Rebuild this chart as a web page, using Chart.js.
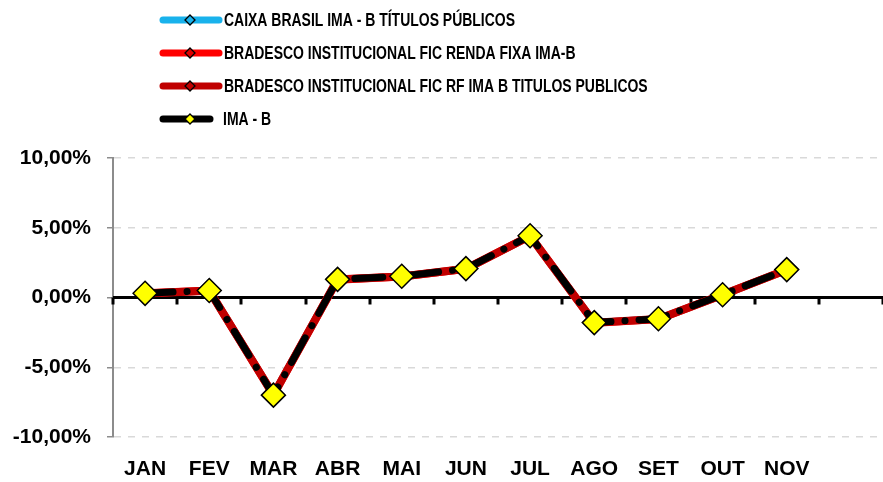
<!DOCTYPE html>
<html>
<head>
<meta charset="utf-8">
<script src="https://cdn.jsdelivr.net/npm/chart.js@4"></script>
<style>
  html, body { margin: 0; padding: 0; background: #fff; }
  #wrap { width: 883px; height: 482px; }
</style>
</head>
<body>
<div id="wrap"><canvas id="chart" width="883" height="482"></canvas></div>
<script>
const months = ['JAN', 'FEV', 'MAR', 'ABR', 'MAI', 'JUN', 'JUL', 'AGO', 'SET', 'OUT', 'NOV', ''];

const caixaImaB = [0.28, 0.48, -6.95, 1.30, 1.52, 2.05, 4.40, -1.80, -1.52, 0.18, 2.00];
const bradescoRendaFixa = [0.30, 0.50, -7.00, 1.28, 1.50, 2.05, 4.42, -1.82, -1.55, 0.20, 1.98];
const bradescoTitulos = [0.29, 0.49, -6.98, 1.29, 1.51, 2.06, 4.41, -1.81, -1.54, 0.19, 1.99];
const imaB = [0.30, 0.50, -7.00, 1.30, 1.52, 2.07, 4.43, -1.80, -1.52, 0.20, 2.00];

const seriesNames = [
  'CAIXA BRASIL IMA - B TÍTULOS PÚBLICOS',
  'BRADESCO INSTITUCIONAL FIC RENDA FIXA IMA-B',
  'BRADESCO INSTITUCIONAL FIC RF IMA B TITULOS PUBLICOS',
  'IMA - B'
];

const FONT = '"Liberation Sans", Arial, sans-serif';

function pct(v) {
  return v.toFixed(2).replace('.', ',') + '%';
}

// legend at top, one row per series
const topLegend = {
  id: 'topLegend',
  afterDraw(chart) {
    const ctx = chart.ctx;
    const rows = [20, 53, 86, 119];
    chart.data.datasets.forEach((ds, i) => {
      const y = rows[i];
      const end = i === 3 ? 210 : 219;
      ctx.save();
      ctx.lineCap = 'round';
      ctx.strokeStyle = ds.borderColor;
      ctx.lineWidth = 7;
      ctx.beginPath();
      ctx.moveTo(163, y);
      ctx.lineTo(end, y);
      ctx.stroke();
      // small marker
      ctx.beginPath();
      ctx.moveTo(190, y - 5);
      ctx.lineTo(195, y);
      ctx.lineTo(190, y + 5);
      ctx.lineTo(185, y);
      ctx.closePath();
      ctx.fillStyle = ds.legendMarker;
      ctx.fill();
      ctx.lineWidth = 1.3;
      ctx.strokeStyle = '#000';
      ctx.stroke();
      ctx.fillStyle = '#000';
      ctx.font = 'bold 18px ' + FONT;
      ctx.textBaseline = 'middle';
      ctx.translate(i === 3 ? 223 : 224, y + 1);
      ctx.scale(0.776, 1);
      ctx.fillText(ds.label, 0, 0);
      ctx.restore();
    });
  }
};

// zero axis line with small ticks at category boundaries
const zeroAxis = {
  id: 'zeroAxis',
  beforeDatasetsDraw(chart) {
    const ctx = chart.ctx;
    const x = chart.scales.x, y = chart.scales.y;
    const y0 = y.getPixelForValue(0);
    ctx.save();
    ctx.strokeStyle = '#000';
    ctx.lineWidth = 3;
    ctx.beginPath();
    ctx.moveTo(chart.chartArea.left, y0);
    ctx.lineTo(chart.chartArea.right, y0);
    ctx.stroke();
    for (let i = 0; i <= months.length; i++) {
      const px = Math.round(x.getPixelForValue(i - 0.5));
      ctx.beginPath();
      ctx.moveTo(px, y0);
      ctx.lineTo(px, y0 + 7);
      ctx.stroke();
    }
    ctx.restore();
  }
};

const dashPattern = [28, 14, 0.1, 14];

new Chart(document.getElementById('chart'), {
  type: 'line',
  data: {
    labels: months,
    datasets: [
      {
        label: seriesNames[0], data: caixaImaB, order: 4,
        borderColor: '#19b2ec', borderWidth: 7, legendMarker: '#19b2ec',
        pointStyle: 'rectRot', pointRadius: 4, pointBackgroundColor: '#19b2ec', pointBorderColor: '#000'
      },
      {
        label: seriesNames[1], data: bradescoRendaFixa, order: 3,
        borderColor: '#ff0000', borderWidth: 8, legendMarker: '#e00000',
        pointStyle: 'rectRot', pointRadius: 4, pointBackgroundColor: '#e00000', pointBorderColor: '#000'
      },
      {
        label: seriesNames[2], data: bradescoTitulos, order: 2,
        borderColor: '#c00000', borderWidth: 8, legendMarker: '#c00000',
        pointStyle: 'rectRot', pointRadius: 4, pointBackgroundColor: '#c00000', pointBorderColor: '#000'
      },
      {
        label: seriesNames[3], data: imaB, order: 1,
        borderColor: '#000000', borderWidth: 7, borderDash: dashPattern, borderCapStyle: 'round',
        legendMarker: '#ffff00',
        pointStyle: 'rectRot', pointRadius: 12, pointBackgroundColor: '#ffff00',
        pointBorderColor: '#000', pointBorderWidth: 1.5
      }
    ]
  },
  options: {
    responsive: false,
    animation: false,
    layout: { autoPadding: false, padding: { top: 158, right: 0, bottom: 0, left: 0 } },
    plugins: {
      legend: { display: false },
      tooltip: { enabled: false }
    },
    elements: { line: { tension: 0 } },
    scales: {
      x: {
        offset: true,
        afterFit(s) { s.height = 45; s.paddingLeft = 0; s.paddingRight = 0; },
        grid: { display: false, drawTicks: false },
        border: { display: false },
        ticks: {
          padding: 20,
          color: '#000',
          maxRotation: 0,
          autoSkip: false,
          font: { family: FONT, size: 21, weight: 'bold' }
        }
      },
      y: {
        min: -10,
        max: 10,
        afterFit(scale) { scale.width = 113; },
        border: { display: true, color: '#8c8c8c', width: 2, dash: [7, 7] },
        grid: {
          color: '#d9d9d9',
          lineWidth: 1.5,
          tickLength: 6,
          tickColor: '#8c8c8c',
          tickBorderDash: [],
          drawTicks: true
        },
        ticks: {
          stepSize: 5,
          padding: 16,
          color: '#000',
          callback: (v) => pct(v),
          font: { family: FONT, size: 21, weight: 'bold' }
        }
      }
    }
  },
  plugins: [zeroAxis, topLegend]
});
</script>
</body>
</html>
